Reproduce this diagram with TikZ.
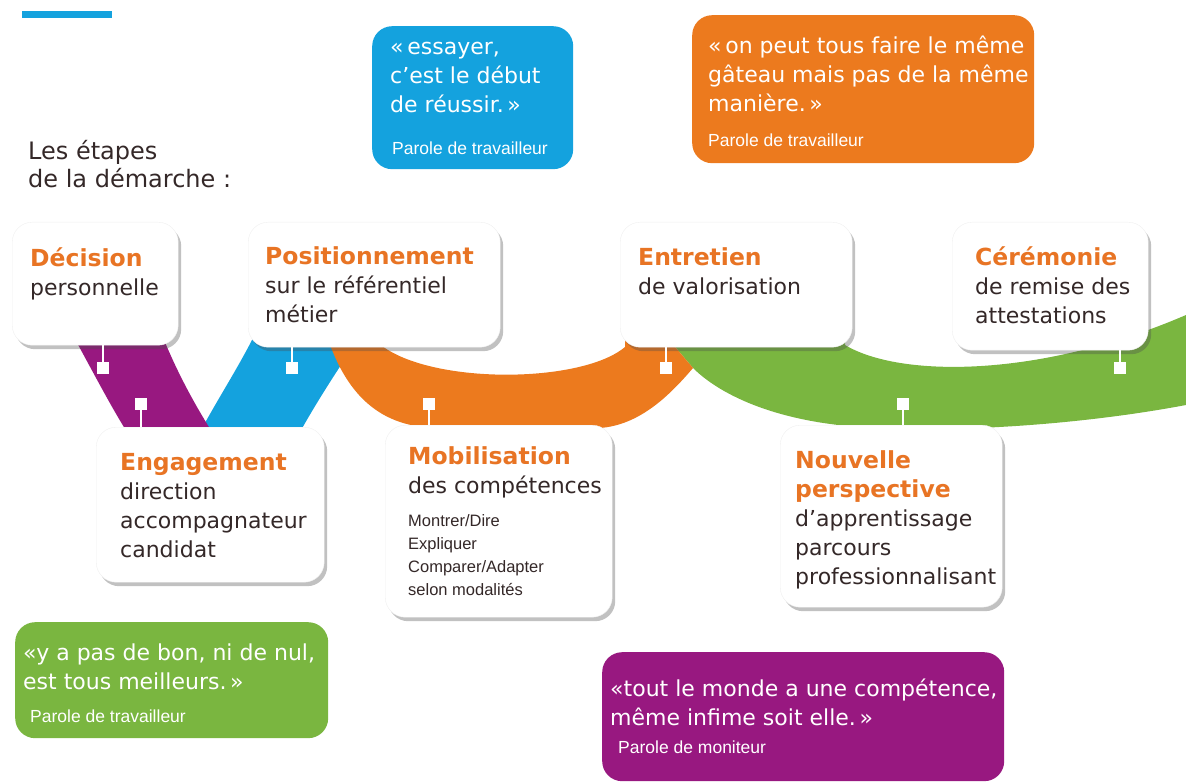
\documentclass[tikz,border=0pt]{standalone}
\usepackage{fontspec}
\setmainfont{DejaVu Sans}
\newfontfamily\parolefont{Liberation Sans}
\usetikzlibrary{positioning,shadows}

\definecolor{bandPurple}{RGB}{152,24,128}
\definecolor{bandBlue}{RGB}{20,162,222}
\definecolor{bandOrange}{RGB}{236,122,30}
\definecolor{bandGreen}{RGB}{122,182,64}
\definecolor{titleOrange}{RGB}{232,116,36}
\definecolor{bodyText}{RGB}{52,40,40}

\newcommand{\steptitle}[1]{{\fontsize{23.5}{29}\selectfont\bfseries\color{titleOrange}#1}}

\tikzset{%
  % Specifications for style of nodes:
       stepbox/.style = {rectangle, rounded corners=20pt, fill=white, draw=black!6,
                         anchor=north west, inner sep=0pt,
                         drop shadow={shadow xshift=3pt, shadow yshift=-4pt,
                                      opacity=0.35, fill=black!70}},
      quotebox/.style = {rectangle, rounded corners=20pt, anchor=north west, inner sep=0pt},
      steptext/.style = {anchor=north west, inner sep=0pt, align=left, text=bodyText,
                         font=\fontsize{22}{29}\selectfont},
     smalltext/.style = {anchor=north west, inner sep=0pt, align=left, text=bodyText,
                         font=\parolefont\fontsize{16.5}{23}\selectfont},
     quotetext/.style = {anchor=north west, inner sep=0pt, align=left, text=white,
                         font=\fontsize{22}{29}\selectfont},
        parole/.style = {anchor=base west, inner sep=0pt, text=white,
                         font=\parolefont\fontsize{17.5}{20}\selectfont},
        marker/.style = {rectangle, fill=white, minimum size=12pt, inner sep=0pt},
          stem/.style = {draw=white, line width=2.5pt}
}

\begin{document}
\begin{tikzpicture}[x=1pt, y=-1pt]
  \useasboundingbox (0,0) rectangle (1186,783);

  % the ribbon behind the steps
  \fill[bandGreen] (665,335) -- (845,335) -- (845,345)
    .. controls (900,378) and (1040,378) .. (1186,315) -- (1186,405)
    .. controls (1080,425) and (960,432) .. (880,428)
    .. controls (780,425) and (720,395) .. (693,368) -- cycle;
  \fill[bandBlue] (200,432) .. controls (220,395) and (240,365) .. (257,330)
    -- (365,330) .. controls (340,365) and (315,405) .. (300,432) -- cycle;
  \fill[bandPurple] (70,330) .. controls (92,370) and (110,405) .. (127,432)
    -- (212,432) .. controls (192,400) and (175,368) .. (160,330) -- cycle;
  \fill[bandOrange] (325,330) .. controls (345,395) and (380,428) .. (440,428)
    -- (600,428) .. controls (640,425) and (670,395) .. (693,368)
    -- (665,335) -- (625,335) -- (625,347)
    .. controls (580,385) and (420,385) .. (375,340) -- cycle;
  \fill[bandBlue] (22,11) rectangle (112,18);

  % markers on the ribbon
  \node (m-dec) [marker] at (103,368) {};
  \node (m-eng) [marker] at (141,404) {};
  \node (m-pos) [marker] at (292,368) {};
  \node (m-mob) [marker] at (429,404) {};
  \node (m-ent) [marker] at (666,368) {};
  \node (m-nou) [marker] at (903,404) {};
  \node (m-cer) [marker] at (1120,368) {};

  % heading
  \node (intro) [anchor=north west, inner sep=0pt, align=left, text=bodyText,
                 font=\fontsize{24}{28}\selectfont] at (28,140)
        {\strut Les étapes\\de la démarche :};

  % quotes
  \node (qblue)   [quotebox, fill=bandBlue, minimum width=201pt, minimum height=143pt] at (372,26) {};
  \node (qblue-t) [quotetext, below right=8pt and 18pt of qblue.north west]
        {\strut«\,essayer,\\c’est le début\\de réussir.\,»};
  \node (qblue-p) [parole] at (392,155) {Parole de travailleur};

  \node (qorange)   [quotebox, fill=bandOrange, minimum width=342pt, minimum height=148pt] at (692,15) {};
  \node (qorange-t) [quotetext, below right=18pt and 16pt of qorange.north west]
        {\strut«\,on peut tous faire le même\\gâteau mais pas de la même\\manière.\,»};
  \node (qorange-p) [parole] at (708,147) {Parole de travailleur};

  \node (qgreen)   [quotebox, fill=bandGreen, minimum width=313pt, minimum height=116pt] at (15,622) {};
  \node (qgreen-t) [quotetext, below right=18pt and 8pt of qgreen.north west]
        {\strut«y a pas de bon, ni de nul,\\est tous meilleurs.\,»};
  \node (qgreen-p) [parole] at (30,722) {Parole de travailleur};

  \node (qpurple)   [quotebox, fill=bandPurple, minimum width=402pt, minimum height=129pt] at (602,652) {};
  \node (qpurple-t) [quotetext, below right=24pt and 8pt of qpurple.north west]
        {\strut«tout le monde a une compétence,\\même infime soit elle.\,»};
  \node (qpurple-p) [parole] at (618,753) {Parole de moniteur};

  % steps of the process
  \node (dec) [stepbox, minimum width=166pt, minimum height=123pt] at (12,222) {};
  \node (dec-t) [steptext, below right=24pt and 18pt of dec.north west]
        {\strut\steptitle{Décision}\\personnelle};

  \node (pos) [stepbox, minimum width=252pt, minimum height=125pt] at (248,222) {};
  \node (pos-t) [steptext, below right=22pt and 17pt of pos.north west]
        {\strut\steptitle{Positionnement}\\sur le référentiel\\métier};

  \node (ent) [stepbox, minimum width=232pt, minimum height=125pt] at (620,222) {};
  \node (ent-t) [steptext, below right=23pt and 18pt of ent.north west]
        {\strut\steptitle{Entretien}\\de valorisation};

  \node (cer) [stepbox, minimum width=196pt, minimum height=128pt] at (952,222) {};
  \node (cer-t) [steptext, below right=23pt and 23pt of cer.north west]
        {\strut\steptitle{Cérémonie}\\de remise des\\attestations};

  \node (eng) [stepbox, minimum width=228pt, minimum height=155pt] at (96,427) {};
  \node (eng-t) [steptext, below right=23pt and 24pt of eng.north west]
        {\strut\steptitle{Engagement}\\direction\\accompagnateur\\candidat};

  \node (mob) [stepbox, minimum width=227pt, minimum height=192pt] at (385,425) {};
  \node (mob-t) [steptext, below right=19pt and 23pt of mob.north west]
        {\strut\steptitle{Mobilisation}\\des compétences};
  \node (mob-s) [smalltext, below right=85pt and 23pt of mob.north west]
        {\strut Montrer/Dire\\Expliquer\\Comparer/Adapter\\selon modalités};

  \node (nou) [stepbox, minimum width=222pt, minimum height=182pt] at (780,425) {};
  \node (nou-t) [steptext, below right=23pt and 15pt of nou.north west]
        {\strut\steptitle{Nouvelle}\\\steptitle{perspective}\\d’apprentissage\\parcours\\professionnalisant};

  % stems from the steps to the markers
  \draw[stem] (dec.south -| m-dec) -- (m-dec);
  \draw[stem] (m-eng) -- (m-eng |- eng.north);
  \draw[stem] (pos.south -| m-pos) -- (m-pos);
  \draw[stem] (m-mob) -- (m-mob |- mob.north);
  \draw[stem] (ent.south -| m-ent) -- (m-ent);
  \draw[stem] (m-nou) -- (m-nou |- nou.north);
  \draw[stem] (cer.south -| m-cer) -- (m-cer);
\end{tikzpicture}
\end{document}
